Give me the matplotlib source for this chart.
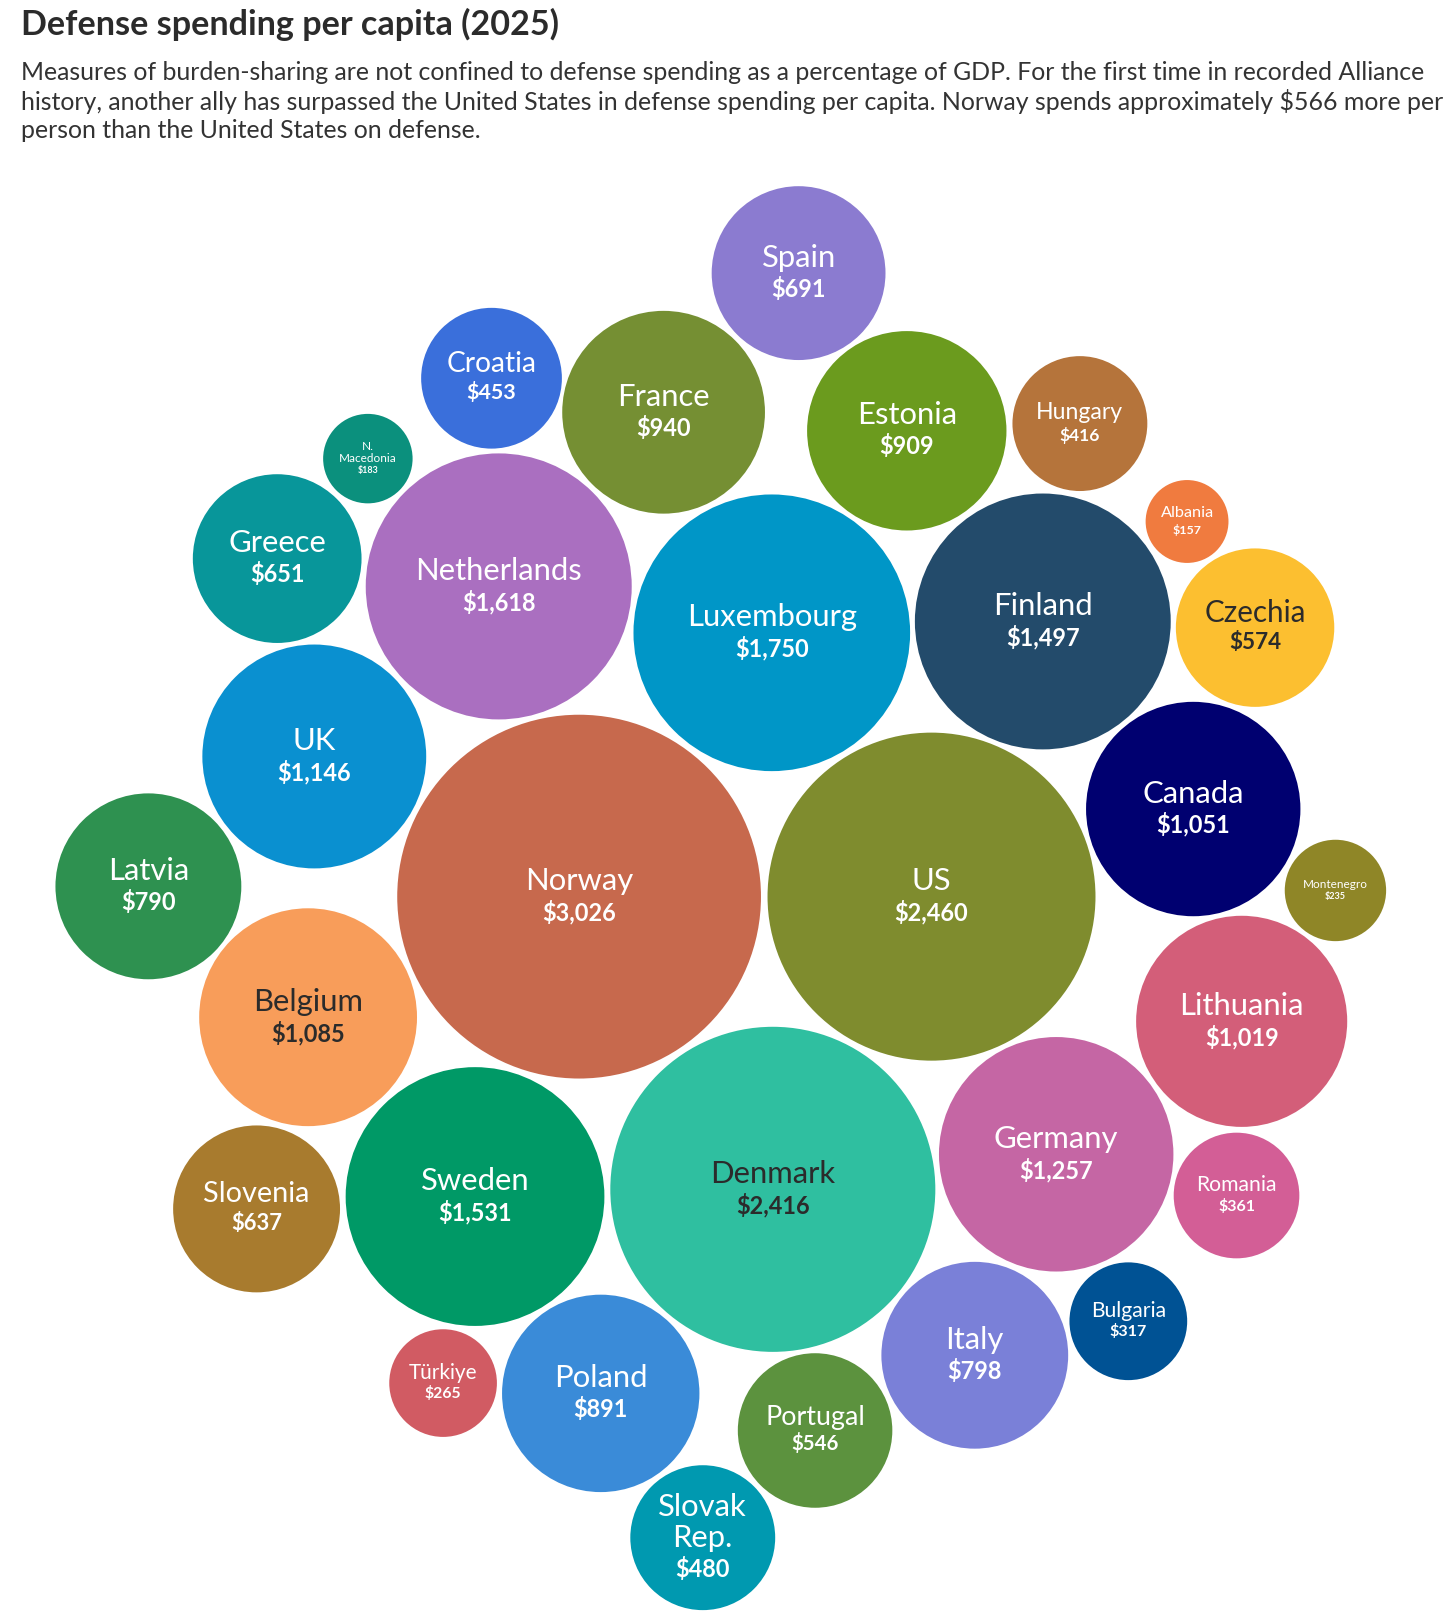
import matplotlib.pyplot as plt
from matplotlib.patches import Circle
import numpy as np

FONTE = "Lato"
plt.rcParams["font.family"] = [FONTE, "DejaVu Sans"]

titulo = "Defense spending per capita (2025)"
subtitulo = [
    "Measures of burden-sharing are not confined to defense spending as a percentage of GDP. For the first time in recorded Alliance",
    "history, another ally has surpassed the United States in defense spending per capita. Norway spends approximately $566 more per",
    "person than the United States on defense.",
]

# dados
paises = ["Spain", "Croatia", "France", "Estonia", "Hungary", "N.\nMacedonia", "Albania",
          "Greece", "Netherlands", "Luxembourg", "Finland", "Czechia", "UK", "Canada",
          "Norway", "US", "Latvia", "Montenegro", "Belgium", "Lithuania", "Germany",
          "Denmark", "Sweden", "Slovenia", "Romania", "Bulgaria", "Italy", "Türkiye",
          "Poland", "Portugal", "Slovak\nRep."]
gasto = [691, 453, 940, 909, 416, 183, 157,
         651, 1618, 1750, 1497, 574, 1146, 1051,
         3026, 2460, 790, 235, 1085, 1019, 1257,
         2416, 1531, 637, 361, 317, 798, 265,
         891, 546, 480]
cores = ["#8b7bd0", "#3a6fdb", "#758f33", "#6b9b1e", "#b5743b", "#0b907d", "#f07b3f",
         "#08969a", "#aa6fc0", "#0096c7", "#234b6b", "#fcbf30", "#0a90d0", "#000070",
         "#c7694d", "#7f8c2e", "#2e9150", "#8f8627", "#f89d5a", "#d35e79", "#c566a4",
         "#2fbfa0", "#009966", "#a87b2e", "#d35e96", "#005294", "#7a80d8", "#d15b63",
         "#3a8bd8", "#5c923e", "#0099b0"]
texto_escuro = {"Belgium", "Czechia", "Denmark"}

# posicoes aproximadas das bolhas (layout, em px da imagem)
ancora_x = [775, 477, 644, 880, 1048, 357, 1152, 269, 484, 749, 1012, 1218, 305, 1158,
            562, 904, 144, 1296, 299, 1205, 1025, 750, 461, 249, 1200, 1095, 946, 430,
            583, 791, 682]
ancora_y = [265, 367, 400, 418, 411, 445, 506, 542, 569, 614, 603, 609, 734, 785,
            870, 870, 860, 864, 987, 991, 1120, 1154, 1161, 1173, 1160, 1282, 1315, 1342,
            1352, 1388, 1492]

W, H = 1413, 1568
PX = 1456 / W

# raio proporcional a raiz do valor (area ~ valor)
raios = 176.5 * np.sqrt(np.array(gasto) / max(gasto))

# pequena relaxacao para evitar sobreposicao
cx = np.array(ancora_x, dtype=float)
cy = np.array(ancora_y, dtype=float)
for _ in range(100):
    for i in range(len(cx)):
        for j in range(i + 1, len(cx)):
            dx, dy = cx[j] - cx[i], cy[j] - cy[i]
            d = np.hypot(dx, dy)
            minimo = raios[i] + raios[j] + 3
            if d < minimo:
                m = (minimo - d) / 2 / d
                cx[i] -= dx * m; cy[i] -= dy * m
                cx[j] += dx * m; cy[j] += dy * m

fig = plt.figure(figsize=(14.56, 16.16), dpi=100)
ax = fig.add_axes([0, 0, 1, 1])
ax.set_xlim(0, W)
ax.set_ylim(H, 0)
ax.axis("off")
renderer = fig.canvas.get_renderer()


def largura(txt, size, weight="normal"):
    t = ax.text(0, 0, txt, fontsize=size, fontweight=weight)
    w = t.get_window_extent(renderer).width / PX
    t.remove()
    return w


def pt_para_px(pt):
    return pt / 0.72 / PX


# titulo e subtitulo
tam_t = 10 * 523 / largura(titulo, 10, "bold")
ax.text(20, 24, titulo, fontsize=tam_t, fontweight="bold", color="#2b2b2b", va="center")
tam_s = 10 * 1385 / largura(subtitulo[1], 10)
for k, linha in enumerate(subtitulo):
    ax.text(20, 70 + k * 28.5, linha, fontsize=tam_s, color="#333333", va="center")

CAP = 22.3
for nome, v, cor, x, y, r in zip(paises, gasto, cores, cx, cy, raios):
    ax.add_patch(Circle((x, y), r, facecolor=cor, edgecolor="none"))
    linhas = nome.split("\n")
    w10 = max(largura(l, 10) for l in linhas)
    tam = min(CAP, 10 * 0.64 * 2 * r / w10)
    tam_v = tam * 0.76
    cor_txt = "#2b2b2b" if nome in texto_escuro else "white"
    passo = 1.0 * pt_para_px(tam)
    itens = linhas + [f"${v:,}"]
    k = len(itens)
    for j, item in enumerate(itens):
        yy = y + (j - (k - 1) / 2) * passo
        if j == k - 1:
            ax.text(x, yy, item, fontsize=tam_v, fontweight="bold", color=cor_txt,
                    ha="center", va="center")
        else:
            ax.text(x, yy, item, fontsize=tam, color=cor_txt, ha="center", va="center")

fig.savefig("out.png", dpi=100, facecolor="white")
